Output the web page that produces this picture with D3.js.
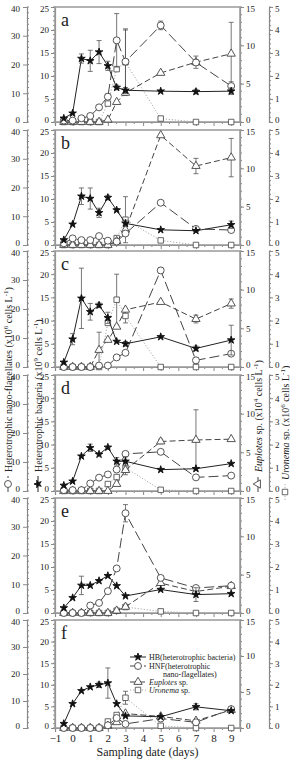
<!DOCTYPE html>
<meta charset="utf-8">
<style>
    body { margin: 0; background: #fff; }
    svg text { font-family: "Liberation Serif", "Times New Roman", serif; fill: #222; }
    .frame { fill: none; stroke: #999; stroke-width: 1.5; }
    .ax line, .ax path { stroke: #888; }
    .ax text { font-size: 9px; }
</style>
<body>
<script src="https://cdn.jsdelivr.net/npm/d3@7/dist/d3.min.js"></script>
<script>
// sampling days shared by every panel
const days = [-0.5, 0, 0.5, 1, 1.5, 2, 2.5, 3, 5, 7, 9];
const panelLetters = ['a', 'b', 'c', 'd', 'e', 'f'];

// HB, heterotrophic bacteria (x10^9 cells/L)
const hbA = [0.8, 1.9, 13.8, 13.3, 15.2, 12.2, 7.5, 6.9, 6.7, 6.6, 6.7];
const hbB = [1.1, 4.5, 10.6, 10.1, 7.0, 10.3, 7.6, 4.7, 3.3, 3.1, 4.4];
const hbC = [1.0, 6.0, 14.8, 11.9, 13.3, 10.6, 5.5, 5.0, 6.5, 4.0, 5.8];
const hbD = [1.2, 2.1, 7.5, 9.3, 7.9, 9.4, 6.4, 6.4, 4.6, 4.8, 5.9];
const hbE = [1.1, 3.3, 6.0, 6.0, 7.0, 8.1, 5.9, 3.7, 5.1, 4.0, 4.2];
const hbF = [1.0, 5.6, 8.6, 9.5, 10.0, 10.4, 5.6, 2.8, 2.6, 4.9, 4.0];
const hbErrA = [0, 0, 1, 2.3, 2.5, 1, 0.5, 0.6, 0, 0.5, 0.7];
const hbErrB = [0, 0, 1.8, 2.3, 1, 0.5, 0.3, 0.7, 0, 0, 0.8];
const hbErrC = [0, 1.2, 6.5, 1.8, 0.5, 1.2, 0, 0.5, 0, 0.5, 3.2];
const hbErrD = [0, 0, 0, 0.8, 0, 0.3, 0.8, 1, 0, 0, 0];
const hbErrE = [0, 0, 2, 0, 0, 0, 0, 0, 0, 1.5, 0];
const hbErrF = [0, 0, 0, 0, 0.6, 3.5, 0, 0, 0, 0.7, 0];

// HNF, heterotrophic nano-flagellates (x10^6 cells/L)
const hnfA = [0.5, 0.5, 1.3, 2.1, 5.1, 8.8, 28.4, 21, 33.6, 20.7, 12.5];
const hnfB = [0.6, 2.3, 1.7, 1.7, 3.1, 1.5, 1.2, 4.0, 14.7, 5.6, 5.2];
const hnfC = [0, 0, 0, 0, 0.5, 0.5, 3.3, 4.9, 33.3, 2.3, 4.6];
const hnfD = [0.3, 0.3, 0.3, 2.6, 4.6, 5.7, 7.4, 12.8, 13.5, 4.7, 5.3];
const hnfE = [0, 0, 0, 2.6, 3.5, 7.6, 15.5, 34.7, 12.2, 8.7, 9.5];
const hnfF = [0, 0, 0, 0, 0, 1.0, 3.7, 1.5, 3.5, 2.1, 7.0];
const hnfErrA = [0, 0, 0, 0, 0.5, 1, 9.3, 11, 1.5, 1, 1.5];
const hnfErrB = [0, 0, 0, 0, 0, 0, 0, 0, 0, 0, 0];
const hnfErrC = [0, 0, 0, 0, 0, 0, 0, 0, 1, 1, 0];
const hnfErrD = [0, 0, 0, 0, 0, 0, 0, 0, 0, 0, 0];
const hnfErrE = [0, 0, 0, 0, 0, 0, 0, 3, 0, 0, 0];
const hnfErrF = [0, 0, 0, 0, 0, 0, 0, 0, 0, 0, 0];

// Euplotes sp. (x10^4 cells/L)
const eupA = [0, 0, 0, 0, 0, 0.3, 2.6, 3.8, 6.4, 7.8, 8.9];
const eupB = [0, 0, 0, 0, 0, 0, 0.5, 2.0, 14.3, 10.3, 11.4];
const eupC = [0, 0, 0, 0, 2.2, 3.5, 5.2, 7.4, 8.4, 6.2, 8.2];
const eupD = [0, 0, 0, 0, 0, 0, 0.9, 2.7, 6.4, 6.6, 6.7];
const eupE = [0, 0, 0, 0, 0, 0, 0.3, 0.8, 3.9, 2.8, 3.5];
const eupF = [0, 0, 0, 0, 0, 0.3, 0.8, 2.0, 1.6, 1.0, 2.5];
const eupErrA = [0, 0, 0, 0, 0, 0, 0, 0, 0, 0.8, 4.1];
const eupErrB = [0, 0, 0, 0, 0, 0, 0, 0, 0, 1, 2.5];
const eupErrC = [0, 0, 0, 0, 2.3, 0, 0, 0, 0, 0.5, 0.6];
const eupErrD = [0, 0, 0, 0, 0, 0, 0, 0, 0.3, 3.9, 0];
const eupErrE = [0, 0, 0, 0, 0, 0, 0, 0, 0, 0, 0];
const eupErrF = [0, 0, 0, 0, 0, 0, 0, 0, 0, 0, 0];

// Uronema sp. (x10^6 cells/L)
const uroA = [0, 0, 0, 0, 0, 0.8, 2.3, 2.6, 0.15, 0, 0];
const uroB = [0, 0, 0, 0, 0, 0, 0.3, 1.1, 0.2, 0, 0];
const uroC = [0, 0, 0, 0, 0, 1.9, 2.9, 2.2, 0, 0, 0];
const uroD = [0, 0, 0, 0, 0, 0.3, 0.6, 1.0, 0.05, 0, 0];
const uroE = [0, 0, 0, 0, 0, 0, 0.1, 0.26, 0.07, 0, 0];
const uroF = [0, 0, 0, 0, 0, 0.3, 0.6, 1.4, 0.1, 0, 0];
const uroErrA = [0, 0, 0, 0, 0, 0, 0, 1.45, 0, 0, 0];
const uroErrB = [0, 0, 0, 0, 0, 0, 0, 1, 0, 0, 0];
const uroErrC = [0, 0, 0, 0, 0, 0, 1.1, 0.3, 0, 0, 0];
const uroErrD = [0, 0, 0, 0, 0, 0, 0, 0.3, 0, 0, 0];
const uroErrE = [0, 0, 0, 0, 0, 0, 0, 0, 0, 0, 0];
const uroErrF = [0, 0, 0, 0, 0, 0, 0, 0.3, 0, 0, 0];

const xTicks = [-1, 0, 1, 2, 3, 4, 5, 6, 7, 8, 9];

const hb = [hbA, hbB, hbC, hbD, hbE, hbF], hbErr = [hbErrA, hbErrB, hbErrC, hbErrD, hbErrE, hbErrF];
const hnf = [hnfA, hnfB, hnfC, hnfD, hnfE, hnfF], hnfErr = [hnfErrA, hnfErrB, hnfErrC, hnfErrD, hnfErrE, hnfErrF];
const eup = [eupA, eupB, eupC, eupD, eupE, eupF], eupErr = [eupErrA, eupErrB, eupErrC, eupErrD, eupErrE, eupErrF];
const uro = [uroA, uroB, uroC, uroD, uroE, uroF], uroErr = [uroErrA, uroErrB, uroErrC, uroErrD, uroErrE, uroErrF];

var width = 290, height = 759;
const left = 55, right = 240, outerL = 27, outerR = 269;
const tops = [7, 130, 251, 375, 498, 620];
const bottoms = [122, 245, 367, 491, 613, 728];
const serif = '"Liberation Serif", "Times New Roman", serif';

let svg = d3.select('body').append('svg')
    .attr('width', width)
    .attr('height', height)
    .attr('font-family', serif);

let x = d3.scaleLinear().domain([-1, 9.5]).range([left, right]);

const starSym = d3.symbol().type(d3.symbolStar).size(18);
const circSym = d3.symbol().type(d3.symbolCircle).size(38);
const triSym = d3.symbol().type(d3.symbolTriangle).size(30);
const sqSym = d3.symbol().type(d3.symbolSquare).size(30);

// draw one series: line, error bars, markers
function series(g, vals, errs, y, opt) {
    let pts = days.map((d, i) => ({ d: d, v: vals[i], e: errs[i] }));
    g.append('path')
        .datum(pts)
        .attr('fill', 'none')
        .attr('stroke', opt.lineColor)
        .attr('stroke-width', 1)
        .attr('stroke-dasharray', opt.dash)
        .attr('d', d3.line().x(p => x(p.d)).y(p => y(p.v)));
    let eb = g.append('g').selectAll('g')
        .data(pts.filter(p => p.e > 0))
        .enter().append('g')
        .attr('stroke', '#555').attr('stroke-width', 0.8);
    eb.append('line')
        .attr('x1', p => x(p.d)).attr('x2', p => x(p.d))
        .attr('y1', p => y(p.v + p.e)).attr('y2', p => y(Math.max(0, p.v - p.e)));
    eb.append('line')
        .attr('x1', p => x(p.d) - 2.5).attr('x2', p => x(p.d) + 2.5)
        .attr('y1', p => y(p.v + p.e)).attr('y2', p => y(p.v + p.e));
    eb.append('line')
        .attr('x1', p => x(p.d) - 2.5).attr('x2', p => x(p.d) + 2.5)
        .attr('y1', p => y(Math.max(0, p.v - p.e))).attr('y2', p => y(Math.max(0, p.v - p.e)));
    g.append('g').selectAll('path')
        .data(pts)
        .enter().append('path')
        .attr('transform', p => `translate(${x(p.d)},${y(p.v)})`)
        .attr('d', opt.sym)
        .attr('fill', opt.fill)
        .attr('stroke', opt.stroke)
        .attr('stroke-width', 0.9);
}

function minor(g, scale, step, max, x0, dir, len) {
    g.append('g').selectAll('line')
        .data(d3.range(0, max + 1e-9, step))
        .enter().append('line')
        .attr('x1', x0).attr('x2', x0 + dir * len)
        .attr('y1', v => scale(v)).attr('y2', v => scale(v))
        .attr('stroke', '#888');
}

// strip d3's default axis font, and pull the end labels inward so stacked panels don't collide
function fixAxis(sel, maxVal) {
    sel.attr('font-family', null).attr('font-size', null);
    sel.selectAll('.tick text')
        .attr('dy', d => d === 0 ? '0.1em' : d === maxVal ? '0.55em' : '0.32em');
    return sel;
}

panelLetters.forEach((letter, k) => {
    let top = tops[k], bot = bottoms[k];
    let yHB = d3.scaleLinear().domain([0, 25]).range([bot, top]);
    let yHNF = d3.scaleLinear().domain([0, 40]).range([bot, top]);
    let yEup = d3.scaleLinear().domain([0, 15]).range([bot, top]);
    let yUro = d3.scaleLinear().domain([0, 5]).range([bot, top]);

    let g = svg.append('g');

    // outer left HNF axis
    let aL = g.append('g').attr('class', 'ax')
        .attr('transform', `translate(${outerL},0)`)
        .call(d3.axisLeft(yHNF).tickValues([0, 10, 20, 30, 40]).tickSize(4).tickPadding(3));
    fixAxis(aL, 40);
    minor(aL, yHNF, 2, 40, 0, 1, 2);

    // inner left HB axis
    let aI = g.append('g').attr('class', 'ax')
        .attr('transform', `translate(${left},0)`)
        .call(d3.axisLeft(yHB).tickValues([0, 5, 10, 15, 20, 25]).tickSize(4).tickPadding(2));
    fixAxis(aI, 25);
    minor(aI, yHB, 1, 25, 0, -1, 2);

    // inner right Euplotes axis
    let aR = g.append('g').attr('class', 'ax')
        .attr('transform', `translate(${right},0)`)
        .call(d3.axisRight(yEup).tickValues([0, 5, 10, 15]).tickSize(4).tickPadding(2));
    fixAxis(aR, 15);
    minor(aR, yEup, 1, 15, 0, 1, 2);

    // outer right Uronema axis
    let aO = g.append('g').attr('class', 'ax')
        .attr('transform', `translate(${outerR},0)`)
        .call(d3.axisRight(yUro).tickValues([0, 1, 2, 3, 4, 5]).tickFormat(d3.format('d')).tickSize(4).tickPadding(2));
    fixAxis(aO, 5);
    minor(aO, yUro, 0.2, 5, 0, 1, 2);

    // bottom axis
    let aB = g.append('g').attr('class', 'ax')
        .attr('transform', `translate(0,${bot})`)
        .call(d3.axisBottom(x).tickValues(xTicks).tickSize(4).tickPadding(2)
            .tickFormat(k === 5 ? d3.format('d') : ''));
    aB.attr('font-family', null).attr('font-size', null);
    aB.selectAll('text').style('font-size', '11px');
    aB.append('g').selectAll('line')
        .data(d3.range(-0.5, 9.5, 1))
        .enter().append('line')
        .attr('x1', d => x(d)).attr('x2', d => x(d))
        .attr('y1', 0).attr('y2', 2).attr('stroke', '#888');

    svg.selectAll('.ax .domain').attr('stroke', '#999').attr('stroke-width', 1.2);

    g.append('rect').attr('class', 'frame')
        .attr('x', left).attr('y', top)
        .attr('width', right - left).attr('height', bot - top);

    g.append('text')
        .attr('x', left + 6).attr('y', top + 19)
        .style('font-size', '18px')
        .text(letter);

    series(g, uro[k], uroErr[k], yUro, { sym: sqSym, fill: '#fff', stroke: '#555', lineColor: '#aaa', dash: '1.2,1.8' });
    series(g, eup[k], eupErr[k], yEup, { sym: triSym, fill: '#fff', stroke: '#444', lineColor: '#444', dash: '6,3' });
    series(g, hnf[k], hnfErr[k], yHNF, { sym: circSym, fill: '#fff', stroke: '#444', lineColor: '#444', dash: '10,4' });
    series(g, hb[k], hbErr[k], yHB, { sym: starSym, fill: '#111', stroke: '#111', lineColor: '#222', dash: null });
});

// x axis title
svg.append('text')
    .attr('x', (left + right) / 2).attr('y', 756)
    .attr('text-anchor', 'middle')
    .style('font-size', '12px')
    .text('Sampling date (days)');

// small legend marker: line with symbol
function keyMark(g, sym, fill, stroke, dash, lineColor) {
    g.append('line').attr('x1', -8).attr('x2', 8).attr('y1', 0).attr('y2', 0)
        .attr('stroke', lineColor).attr('stroke-dasharray', dash);
    g.append('path').attr('d', sym).attr('fill', fill).attr('stroke', stroke).attr('stroke-width', 0.9);
}

// rotated axis titles
function yTitle(cx, by, sym, fill, stroke, dash, lineColor, parts) {
    let g = svg.append('g').attr('transform', `translate(${cx},${by}) rotate(-90)`);
    keyMark(g, sym, fill, stroke, dash, lineColor);
    let t = g.append('text').attr('x', 12).attr('y', 3.5).style('font-size', '10px');
    parts.forEach(p => {
        let s = t.append('tspan').text(p.t);
        if (p.sup) s.attr('baseline-shift', 'super').style('font-size', '7px');
        if (p.it) s.style('font-style', 'italic');
    });
}

yTitle(8, 484, circSym, '#fff', '#444', '10,4', '#444', [
    { t: 'Heterotrophic nano-flagellates (x10' }, { t: '6', sup: 1 }, { t: ' cells L' }, { t: '-1', sup: 1 }, { t: ')' }]);
yTitle(38, 484, starSym, '#111', '#111', null, '#222', [
    { t: 'Heterotrophic bacteria (x10' }, { t: '9', sup: 1 }, { t: ' cells L' }, { t: '-1', sup: 1 }, { t: ')' }]);
yTitle(258, 484, triSym, '#fff', '#444', '6,3', '#444', [
    { t: 'Euplotes', it: 1 }, { t: ' sp. (x10' }, { t: '4', sup: 1 }, { t: ' cells L' }, { t: '-1', sup: 1 }, { t: ')' }]);
yTitle(285, 492, sqSym, '#fff', '#555', '1.2,1.8', '#aaa', [
    { t: 'Uronema', it: 1 }, { t: ' sp. (x10' }, { t: '6', sup: 1 }, { t: ' cells L' }, { t: '-1', sup: 1 }, { t: ')' }]);

// legend inside panel f
const legendRows = [
    { sym: starSym, fill: '#111', stroke: '#111', dash: null, lc: '#222', lines: [{ t: 'HB(heterotrophic bacteria)' }] },
    { sym: circSym, fill: '#fff', stroke: '#444', dash: '10,4', lc: '#444', lines: [{ t: 'HNF(heterotrophic' }] },
    { sym: null, lines: [{ t: 'nano-flagellates)', dx: 14 }] },
    { sym: triSym, fill: '#fff', stroke: '#444', dash: '6,3', lc: '#444', lines: [{ t: 'Euplotes', it: 1 }, { t: ' sp.' }] },
    { sym: sqSym, fill: '#fff', stroke: '#555', dash: '1.2,1.8', lc: '#aaa', lines: [{ t: 'Uronema', it: 1 }, { t: ' sp.' }] }
];
const legY = [657, 666, 674, 682, 690];
legendRows.forEach((r, i) => {
    let g = svg.append('g').attr('transform', `translate(138,${legY[i]})`);
    if (r.sym) keyMark(g, r.sym, r.fill, r.stroke, r.dash, r.lc);
    let t = g.append('text').attr('x', 11 + (r.lines[0].dx || 0)).attr('y', 3).style('font-size', '8px');
    r.lines.forEach(p => {
        let s = t.append('tspan').text(p.t);
        if (p.it) s.style('font-style', 'italic');
    });
});
</script>
</body>
